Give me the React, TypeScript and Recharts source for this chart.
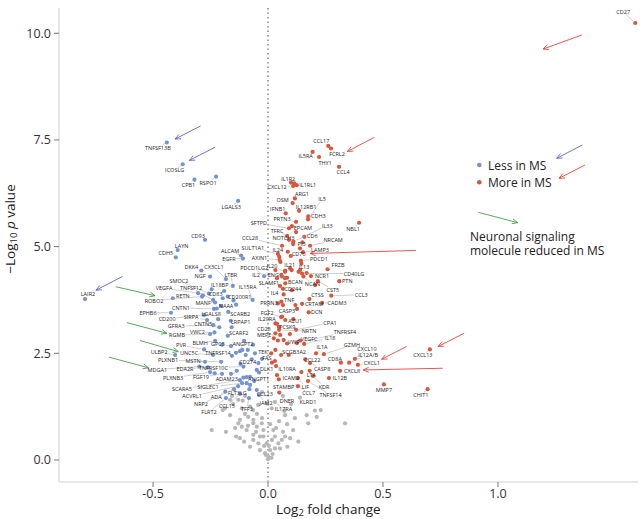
import React from 'react';
import { ScatterChart, Scatter, XAxis, YAxis, ReferenceLine, Legend } from 'recharts';

type Gene = [string, number, number];
type Pt = [number, number];
type Seg = [number, number, number, number];

const xTicks = [-0.5, 0, 0.5, 1.0];
const yTicks = [0, 2.5, 5, 7.5, 10];

const lessInMS: Gene[] = [
  ['TNFSF13B', -0.44, 7.44], ['ICOSLG', -0.371, 6.93], ['CPB1', -0.32, 6.57], ['RSPO1', -0.226, 6.64],
  ['LGALS3', -0.13, 6.07], ['CD93', -0.274, 5.16], ['LAYN', -0.393, 4.92], ['CDH5', -0.401, 4.75],
  ['ALCAM', -0.117, 4.79], ['EGFR', -0.109, 4.72], ['DKK4', -0.29, 4.44], ['NGF', -0.252, 4.3],
  ['CX3CL1', -0.183, 4.24], ['LTBR', -0.153, 4.08], ['PDCD1LG2', -0.017, 4.31], ['IL15RA', -0.067, 3.75],
  ['IL18BP', -0.245, 4.0], ['SMOC2', -0.257, 3.9], ['TNFSF12', -0.239, 3.75], ['VEGFA', -0.304, 3.91],
  ['RETN', -0.414, 3.79], ['ROBO2', -0.287, 3.83], ['CD83', -0.197, 3.79], ['CD200R1', -0.175, 3.83],
  ['MANF', -0.23, 3.69], ['NAAA', -0.139, 3.64], ['LAIR2', -0.796, 3.77], ['EPHB6', -0.422, 3.45],
  ['CNTN1', -0.235, 3.54], ['CD200', -0.278, 3.4], ['SIRPA', -0.265, 3.28], ['LGALS8', -0.217, 3.3],
  ['SCARB2', -0.173, 3.47], ['LRPAP1', -0.162, 3.26], ['GFRA3', -0.238, 3.16], ['CNTN5', -0.212, 3.11],
  ['RGMB', -0.252, 2.95], ['VWC2', -0.233, 2.99], ['SCARF2', -0.175, 2.91], ['PVR', -0.278, 2.59],
  ['BLMH', -0.23, 2.79], ['GPC5', -0.161, 2.67], ['ANGPT2', -0.122, 2.55], ['ULBP2', -0.404, 2.46],
  ['UNC5C', -0.239, 2.46], ['TNFRSF14', -0.157, 2.44], ['TEK', -0.057, 2.5], ['PLXNB1', -0.274, 2.3],
  ['MSTN', -0.204, 2.3], ['CD274', -0.097, 2.46], ['MDGA1', -0.299, 2.19], ['EDA2R', -0.261, 2.17],
  ['TNFRSF10C', -0.107, 2.19], ['DLK1', -0.049, 2.11], ['PLXNB3', -0.252, 2.06], ['FGF19', -0.2, 2.02],
  ['ADAM23', -0.136, 2.09], ['ANGPT1', -0.093, 1.94], ['SCARA5', -0.122, 1.87], ['SIGLEC1', -0.113, 1.8],
  ['ACVRL1', -0.13, 1.73], ['ADA', -0.186, 1.6], ['FLT3LG', -0.081, 1.66], ['CCL23', -0.049, 1.64],
  ['NRP2', -0.148, 1.66], ['CCL15', -0.122, 1.55], ['FLRT2', -0.183, 1.45], ['TFF3', -0.083, 1.45],
  ['JAM2', -0.039, 1.52],
];

const lessUnlabeled: Pt[] = [
  [-0.112, 2.58], [-0.088, 2.58], [-0.071, 2.36], [-0.042, 2.27], [-0.232, 2.03], [-0.161, 2.02],
  [-0.107, 1.93], [-0.078, 1.95], [-0.039, 2.05], [-0.093, 1.8], [-0.078, 1.76], [-0.158, 3.11],
  [-0.223, 3.55], [-0.204, 3.61], [-0.191, 3.96], [-0.139, 2.51], [-0.026, 2.37], [-0.065, 2.7],
  [-0.104, 2.79], [-0.2, 2.7], [-0.283, 3.86], [-0.15, 3.74], [-0.12, 2.25], [-0.06, 1.85],
];

const moreInMS: Gene[] = [
  ['CD27', 1.597, 10.24], ['CCL17', 0.262, 7.36], ['FCRL2', 0.274, 7.3], ['IL5RA', 0.194, 7.22],
  ['THY1', 0.222, 7.1], ['CCL4', 0.309, 6.87], ['IL1R2', 0.114, 6.48], ['IL1RL1', 0.125, 6.44],
  ['CXCL12', 0.109, 6.42], ['ARG1', 0.117, 6.13], ['OSM', 0.107, 6.02], ['IL5', 0.174, 5.64],
  ['CDH3', 0.175, 5.71], ['IL12RB1', 0.135, 5.84], ['IFNB1', 0.077, 5.78], ['PRTN3', 0.122, 5.58],
  ['SFTPD', 0.091, 5.43], ['EPCAM', 0.104, 5.48], ['TFRC', 0.083, 5.25], ['IL33', 0.11, 5.12],
  ['NBL1', 0.396, 5.56], ['CD6', 0.158, 5.23], ['NOTCH3', 0.091, 5.16], ['CCL28', 0.061, 5.02],
  ['NRCAM', 0.183, 5.02], ['PI3', 0.109, 5.06], ['LAMP3', 0.152, 4.87], ['CD70', 0.099, 4.78],
  ['IL24', 0.086, 4.88], ['SULT1A1', 0.043, 4.83], ['AXIN1', 0.05, 4.69], ['PDCD1', 0.143, 4.67],
  ['IL21', 0.103, 4.45], ['IL13', 0.139, 4.45], ['IL20', 0.074, 4.41], ['FRZB', 0.259, 4.47],
  ['NCR1', 0.187, 4.31], ['NCAN', 0.154, 4.3], ['CD40LG', 0.148, 4.37], ['ENG', 0.058, 4.34],
  ['IL2', 0.083, 4.27], ['BCAN', 0.075, 4.14], ['PTN', 0.31, 4.19], ['SLAMF1', 0.052, 4.08],
  ['CST5', 0.217, 4.19], ['CD244', 0.065, 4.01], ['CCL3', 0.275, 3.85], ['IL4', 0.068, 3.88],
  ['CTSS', 0.18, 3.77], ['TNF', 0.058, 3.71], ['PRRN3', 0.065, 3.63], ['CADM3', 0.235, 3.68],
  ['CRTAM', 0.148, 3.66], ['CASP3', 0.126, 3.54], ['DCN', 0.177, 3.46], ['FGF2', 0.057, 3.35],
  ['AZU1', 0.075, 3.28], ['IL20RA', 0.032, 3.2], ['CPA1', 0.122, 3.05], ['PCSK9', 0.047, 3.12],
  ['CD28', 0.032, 2.97], ['NRTN', 0.048, 3.05], ['TNFRSF4', 0.126, 2.74], ['MEPE', 0.053, 2.93],
  ['VWF', 0.068, 2.81], ['VEGFC', 0.14, 2.8], ['IL18', 0.157, 2.72], ['IL1A', 0.209, 2.5],
  ['GZMH', 0.243, 2.48], ['SCGB3A2', 0.057, 2.46], ['CCL22', 0.162, 2.36], ['CXCL10', 0.378, 2.37],
  ['CD8A', 0.317, 2.28], ['IL12A/B', 0.353, 2.28], ['CXCL1', 0.391, 2.23], ['FAS', 0.03, 2.32],
  ['IL10RA', 0.035, 2.2], ['CASP8', 0.183, 2.27], ['CXCL8', 0.313, 2.09], ['LTA', 0.145, 2.06],
  ['IL12B', 0.265, 1.92], ['ICAM2', 0.047, 1.89], ['LIF', 0.13, 1.92], ['KDR', 0.196, 1.97],
  ['STAMBP', 0.049, 1.58], ['CCL7', 0.13, 1.73], ['TNFSF14', 0.174, 1.85], ['CXCL13', 0.704, 2.59],
  ['MMP7', 0.504, 1.77], ['CHIT1', 0.694, 1.66],
];

const moreUnlabeled: Pt[] = [
  [0.054, 4.64], [0.139, 4.96], [0.096, 4.49], [0.168, 4.38], [0.06, 4.3], [0.074, 4.26],
  [0.049, 4.76], [0.032, 4.45], [0.075, 4.44], [0.133, 4.41], [0.039, 4.26], [0.043, 3.67],
  [0.119, 3.63], [0.061, 3.36], [0.039, 3.19], [0.025, 2.85], [0.043, 2.8], [0.083, 2.73],
  [0.032, 2.58], [0.014, 2.5], [0.017, 2.28], [0.039, 1.99], [0.181, 2.09], [0.09, 2.46],
  [0.104, 3.98], [0.122, 5.34], [0.1, 6.5], [0.15, 5.1], [0.205, 4.1], [0.11, 3.3],
  [0.095, 2.95], [0.145, 4.6],
];

const notSigLabeled: Gene[] = [['DNER', 0.065, 1.5], ['IL17RA', 0.03, 1.36], ['KLRD1', 0.139, 1.46]];

const notSignificant: Pt[] = [
  [-0.129, 1.41], [-0.11, 1.39], [-0.078, 1.25], [-0.065, 1.17], [-0.006, 1.33], [0.016, 1.21],
  [0.168, 1.05], [0.204, 1.16], [0.229, 1.17], [0.335, 0.86], [-0.245, 0.7], [-0.183, 0.66],
  [-0.129, 0.86], [-0.114, 0.78], [-0.093, 0.7], [-0.064, 0.86], [-0.049, 0.78], [-0.027, 0.86],
  [-0.104, 0.43], [-0.064, 0.47], [-0.042, 0.39], [-0.035, 0.23], [-0.013, 0.16], [0.001, 0.08],
  [0.009, 0.23], [0.03, 0.27], [0.045, 0.39], [0.06, 0.47], [0.03, 0.55], [0.074, 0.55],
  [0.096, 0.51], [0.084, 0.31], [0.052, 0.27], [0.132, 0.43], [-0.02, 0.55], [-0.006, 0.39],
  [-0.078, 0.31], [-0.139, 0.55], [-0.122, 0.51], [-0.165, 1.05], [-0.114, 1.21], [-0.122, 0.94],
  [-0.086, 1.01], [-0.064, 0.94], [-0.02, 0.7], [-0.064, 0.59], [-0.035, 0.55], [-0.017, 0.33],
  [-0.187, 1.21], [-0.165, 1.41], [0.175, 0.86], [0.212, 1.01], [0.023, 0.7], [-0.197, 1.17],
  [-0.152, 1.31], [-0.1, 1.08], [-0.048, 1.08], [-0.026, 0.98], [0.009, 0.84], [0.035, 0.75],
  [0.065, 0.66], [0.017, 0.47], [0.004, 0.33], [-0.052, 0.66], [-0.087, 0.8], [-0.143, 0.75],
  [0.109, 0.7], [0.083, 0.84], [0.048, 0.91], [0.07, 1.15], [0.1, 1.31], [-0.043, 1.29],
  [-0.157, 1.5], [-0.1, 1.5], [-0.026, 1.59], [0.074, 1.05], [0.117, 0.98], [0.0, 0.02],
  [-0.01, 0.12], [0.02, 0.14], [0.015, 0.05],
];

// label placement relative to its point (layout only, px)
const labelOffsets: Record<string, [number, number]> = {
  TNFSF13B: [-9, 5], ICOSLG: [-8, 6], CPB1: [-6, 5], RSPO1: [-8, 6], LGALS3: [-7, 6], CD93: [-7, -4],
  LAYN: [4, -4], CDH5: [-10, -4], ALCAM: [-11, -5], EGFR: [-14, 0], DKK4: [-10, -4], NGF: [-10, 0],
  CX3CL1: [-12, -12], LTBR: [-2, -11], PDCD1LG2: [-10, -8], IL15RA: [-5, -13], IL18BP: [8, -4],
  SMOC2: [-30, -13], TNFSF12: [-22, -12], VEGFA: [-34, -5], RETN: [10, -2], ROBO2: [-48, 4],
  CD83: [-7, -4], CD200R1: [12, 0], MANF: [-12, 0], NAAA: [-10, 1], LAIR2: [3, -5], EPHB6: [-23, 0],
  CNTN1: [-33, -1], CD200: [-37, 4], SIRPA: [-16, -3], LGALS8: [-7, -5], SCARB2: [12, 2],
  LRPAP1: [10, 1], GFRA3: [-37, 1], CNTN5: [-16, -3], RGMB: [-33, 1], VWC2: [-17, 0], SCARF2: [11, -3],
  PVR: [-23, -4], BLMH: [-15, 2], GPC5: [-13, -2], ANGPT2: [3, -7], ULBP2: [-16, -3], UNC5C: [-24, -2],
  TNFRSF14: [-14, -3], TEK: [8, -1], PLXNB1: [-37, -2], MSTN: [-28, -1], CD274: [2, 6.5],
  MDGA1: [-42, 3], EDA2R: [-23, 1.5], TNFRSF10C: [-30, 1], DLK1: [10, -1], PLXNB3: [-37, 6],
  FGF19: [-21, 3], ADAM23: [-10, 8], ANGPT1: [12, 2], SCARA5: [-58, 9], SIGLEC1: [-34, 4],
  ACVRL1: [-46, 10], ADA: [-9, 5], FLT3LG: [-12, 4], CCL23: [8, 4], NRP2: [-33, 15], CCL15: [-13, 12],
  FLRT2: [-17, 14], TFF3: [-2, 11], JAM2: [7, 8],
  CD27: [-12, -11], CCL17: [-7, -4.5], FCRL2: [6, 6], IL5RA: [-7, 4.5], THY1: [6, 5.5], CCL4: [4, 5.5],
  IL1R2: [-6, -4], IL1RL1: [11, 0], CXCL12: [-16, 1], ARG1: [7, -4], OSM: [-10, -3], IL5: [14, -20],
  CDH3: [10, 0], IL12RB1: [7, -4], IFNB1: [-8, -4], PRTN3: [-14, -3], SFTPD: [-30, -5], EPCAM: [11, 2],
  TFRC: [-10, -5], IL33: [34, -16], NBL1: [-6, 6], CD6: [8, -1], NOTCH3: [-5.5, -1.5], CCL28: [-32, -7.5],
  NRCAM: [23, -5.5], PI3: [8.5, 0], LAMP3: [17, -2.5], CD70: [8, -2.5], IL24: [-10, -2],
  SULT1A1: [-25, -6], AXIN1: [-20, -2], PDCD1: [18, -2], IL21: [-2, -5], IL13: [4, -3.5], IL20: [-13, -6],
  FRZB: [10.5, -4], NCR1: [11, 0], NCAN: [9, 7.5], CD40LG: [52, 0], ENG: [-8, 0], IL2: [-31, -3],
  BCAN: [10, -1], PTN: [8, 0], SLAMF1: [-11, -2.5], CST5: [15, 8.5], CD244: [10, 0.5], CCL3: [30, -1],
  IL4: [-9, -1], CTSS: [8, -4], TNF: [8, -2], PRRN3: [-14, -2.5], CADM3: [15, 0], CRTAM: [12, 0],
  CASP3: [-10, 2.5], DCN: [8, 0], FGF2: [-14, -4.5], AZU1: [10, 0.5], IL20RA: [-8.5, -4], CPA1: [34, -7],
  PCSK9: [8.5, 0], CD28: [-11.5, -4], NRTN: [30, 1.5], TNFRSF4: [48, -11], MEPE: [-16, 0.5],
  VWF: [10, 1.5], VEGFC: [9, -1.5], IL18: [26, -6], IL1A: [6, -6], GZMH: [28, -9], SCGB3A2: [13, -3.5],
  CCL22: [7, 1], CXCL10: [12, -10], CD8A: [-6, -4], 'IL12A/B': [19, -8], CXCL1: [14, -1.5],
  FAS: [-8, -2.5], IL10RA: [11, 2.5], CASP8: [12, 5.5], CXCL8: [12, 0], LTA: [10, 2.5], IL12B: [11, 0],
  ICAM2: [12, -1], LIF: [7.5, 8.7], KDR: [11, 10.7], STAMBP: [4.4, -6], CCL7: [10.7, 7.3],
  TNFSF14: [22.5, 14], CXCL13: [-7, 5.7], MMP7: [0, 5.2], CHIT1: [-6.7, 5.7],
  DNER: [4, 4.7], IL17RA: [8.5, 7], KLRD1: [8, 4.3],
};

const blueArrows: Seg[] = [
  [-0.293, 7.83, -0.404, 7.52], [-0.23, 7.33, -0.342, 7.02], [-0.633, 4.3, -0.748, 3.98],
];
const redArrows: Seg[] = [
  [1.365, 9.96, 1.196, 9.63], [0.462, 7.56, 0.345, 7.23], [0.643, 4.91, 0.183, 4.84],
  [0.603, 2.66, 0.494, 2.36], [0.76, 2.15, 0.414, 2.11], [0.853, 2.97, 0.74, 2.66],
];
const greenArrows: Seg[] = [
  [-0.662, 4.06, -0.491, 3.85], [-0.614, 3.22, -0.44, 2.97], [-0.557, 2.8, -0.39, 2.54],
  [-0.691, 2.41, -0.52, 2.16],
];

const BLUE = '#7393d3';
const RED = '#d9563b';
const GREY = '#b7b7b7';
const A_BLUE = '#5b66cc';
const A_RED = '#e5453d';
const A_GREEN = '#45a04a';
const FONT = '"Open Sans", "Noto Sans", sans-serif';

const rows = (arr: Gene[]) => arr.map(([gene, fc, p]) => ({ gene, fc, p }));
const ptRows = (arr: Pt[]) => arr.map(([fc, p]) => ({ gene: '', fc, p }));

const greyData = [...ptRows(notSignificant), ...rows(notSigLabeled)];
const blueData = [...ptRows(lessUnlabeled), ...rows(lessInMS)];
const redData = [...ptRows(moreUnlabeled), ...rows(moreInMS)];
const labelData = [...rows(notSigLabeled), ...rows(lessInMS), ...rows(moreInMS)];

const dot = (color: string) => (props: any) => {
  if (props.cx == null || props.cy == null) return <g />;
  return <circle cx={props.cx} cy={props.cy} r={2.1} fill={color} />;
};

const LabelShape = (props: any) => {
  const { cx, cy, payload } = props;
  if (cx == null || cy == null || !payload) return <g />;
  const off = labelOffsets[payload.gene];
  if (!off) return <g />;
  const [dx, dy] = off;
  const lx = cx + dx;
  const ly = cy + dy;
  const hw = payload.gene.length * 1.65 + 0.8;
  const hh = 2.6;
  const vx = -dx;
  const vy = -dy;
  const s = Math.min(vx !== 0 ? hw / Math.abs(vx) : Infinity, vy !== 0 ? hh / Math.abs(vy) : Infinity);
  let line: React.ReactNode = null;
  if (s < 1) {
    const ex = lx + vx * s;
    const ey = ly + vy * s;
    const len = Math.hypot(cx - ex, cy - ey);
    if (len > 4.5) {
      const ux = (cx - ex) / len;
      const uy = (cy - ey) / len;
      line = <line x1={ex} y1={ey} x2={cx - ux * 2.4} y2={cy - uy * 2.4} stroke="#a0a0a0" strokeWidth={0.5} />;
    }
  }
  return (
    <g>
      {line}
      <text x={lx} y={ly} textAnchor="middle" dominantBaseline="central" fontSize={5.5} fill="#262626" fontFamily={FONT}>
        {payload.gene}
      </text>
    </g>
  );
};

const arrowShape = (color: string) => (props: any) => {
  const { x1, y1, x2, y2 } = props;
  if ([x1, y1, x2, y2].some((v) => v == null || isNaN(v))) return <g />;
  const ang = Math.atan2(y2 - y1, x2 - x1);
  const L = 6;
  const a = 0.42;
  const p1 = `${x2 - L * Math.cos(ang - a)},${y2 - L * Math.sin(ang - a)}`;
  const p2 = `${x2 - L * Math.cos(ang + a)},${y2 - L * Math.sin(ang + a)}`;
  return (
    <g>
      <line x1={x1} y1={y1} x2={x2} y2={y2} stroke={color} strokeWidth={0.9} />
      <polyline points={`${p1} ${x2},${y2} ${p2}`} fill="none" stroke={color} strokeWidth={0.9} />
    </g>
  );
};

const SvgArrow = ({ x1, y1, x2, y2, color }: { x1: number; y1: number; x2: number; y2: number; color: string }) =>
  arrowShape(color)({ x1, y1, x2, y2 });

const LegendContent = () => (
  <svg width={175} height={125} style={{ overflow: 'visible', display: 'block' }}>
    <SvgArrow x1={117.3} y1={10} x2={91.7} y2={23.3} color={A_BLUE} />
    <circle cx={14.3} cy={30} r={2.3} fill={BLUE} />
    <text x={23} y={30} dominantBaseline="central" fontSize={12} fill="#222" fontFamily={FONT}>Less in MS</text>
    <SvgArrow x1={120} y1={30} x2={94} y2={43.3} color={A_RED} />
    <circle cx={14.3} cy={47.3} r={2.3} fill={RED} />
    <text x={23} y={47.3} dominantBaseline="central" fontSize={12} fill="#222" fontFamily={FONT}>More in MS</text>
    <SvgArrow x1={13.3} y1={77.3} x2={52.7} y2={87.7} color={A_GREEN} />
    <text x={5} y={101.7} dominantBaseline="central" fontSize={12} fill="#222" fontFamily={FONT}>Neuronal signaling</text>
    <text x={5} y={115} dominantBaseline="central" fontSize={12} fill="#222" fontFamily={FONT}>molecule reduced in MS</text>
  </svg>
);

const YLabel = (props: any) => {
  const vb = props.viewBox || { x: 0, y: 8, width: 59, height: 474 };
  const cx = vb.x + 10;
  const cy = vb.y + vb.height / 2 - 16;
  return (
    <text transform={`translate(${cx},${cy}) rotate(-90)`} textAnchor="middle" dominantBaseline="central" fontSize={13.5} fill="#222" fontFamily={FONT}>
      <tspan>−Log</tspan>
      <tspan fontSize={9.5} dy={3}>10</tspan>
      <tspan dy={-3}> </tspan>
      <tspan fontStyle="italic">p</tspan>
      <tspan> value</tspan>
    </text>
  );
};

const XLabel = (props: any) => {
  const vb = props.viewBox || { x: 59, y: 482, width: 579, height: 30 };
  const cx = vb.x + vb.width * 0.465;
  const cy = vb.y + 27;
  return (
    <text x={cx} y={cy} textAnchor="middle" dominantBaseline="central" fontSize={13.5} fill="#222" fontFamily={FONT}>
      <tspan>Log</tspan>
      <tspan fontSize={9.5} dy={3}>2</tspan>
      <tspan dy={-3}> fold change</tspan>
    </text>
  );
};

const tickStyle = { fontSize: 12.5, fill: '#333', fontFamily: FONT };

export default function App() {
  return (
    <div style={{ position: 'absolute', left: 0, top: 0, width: 640, height: 519, background: '#fff' }}>
      <ScatterChart width={640} height={519} margin={{ top: 8, right: 2, bottom: 7, left: 0 }}>
        <XAxis
          type="number"
          dataKey="fc"
          domain={[-0.909, 1.609]}
          ticks={xTicks}
          tickFormatter={(v: number) => v.toFixed(1)}
          height={30}
          tick={tickStyle}
          tickSize={5}
          tickMargin={2}
          axisLine={{ stroke: '#cfcfcf' }}
          tickLine={{ stroke: '#777' }}
          allowDataOverflow
          label={{ content: XLabel }}
        />
        <YAxis
          type="number"
          dataKey="p"
          domain={[-0.516, 10.592]}
          ticks={yTicks}
          tickFormatter={(v: number) => v.toFixed(1)}
          width={59}
          tick={tickStyle}
          tickSize={5}
          tickMargin={3}
          axisLine={{ stroke: '#cfcfcf' }}
          tickLine={{ stroke: '#777' }}
          allowDataOverflow
          label={{ content: YLabel }}
        />
        <ReferenceLine x={0} stroke="#8a8a8a" strokeWidth={1.5} strokeDasharray="1.5 3" />
        <Scatter name="Not significant" data={greyData} shape={dot(GREY)} isAnimationActive={false} legendType="none" />
        <Scatter name="Less in MS" data={blueData} shape={dot(BLUE)} isAnimationActive={false} />
        <Scatter name="More in MS" data={redData} shape={dot(RED)} isAnimationActive={false} />
        <Scatter name="labels" data={labelData} shape={LabelShape} isAnimationActive={false} legendType="none" />
        {blueArrows.map((a, i) => (
          <ReferenceLine key={`b${i}`} segment={[{ x: a[0], y: a[1] }, { x: a[2], y: a[3] }]} stroke={A_BLUE} shape={arrowShape(A_BLUE)} ifOverflow="visible" />
        ))}
        {redArrows.map((a, i) => (
          <ReferenceLine key={`r${i}`} segment={[{ x: a[0], y: a[1] }, { x: a[2], y: a[3] }]} stroke={A_RED} shape={arrowShape(A_RED)} ifOverflow="visible" />
        ))}
        {greenArrows.map((a, i) => (
          <ReferenceLine key={`g${i}`} segment={[{ x: a[0], y: a[1] }, { x: a[2], y: a[3] }]} stroke={A_GREEN} shape={arrowShape(A_GREEN)} ifOverflow="visible" />
        ))}
        <Legend
          layout="horizontal"
          align="center"
          verticalAlign="middle"
          content={<LegendContent />}
          wrapperStyle={{ left: 465, top: 135, width: 175, height: 125 }}
        />
      </ScatterChart>
    </div>
  );
}
